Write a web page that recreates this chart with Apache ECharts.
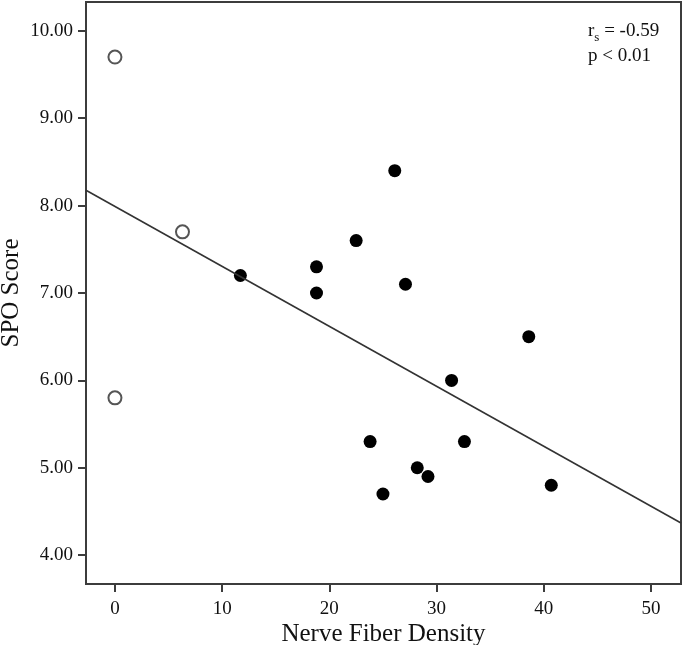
<!DOCTYPE html>
<html>
<head>
<meta charset="utf-8">
<style>
  html, body { margin: 0; padding: 0; background: #fff; }
  #chart { width: 685px; height: 645px; }
</style>
<script src="https://cdn.jsdelivr.net/npm/echarts@6/dist/echarts.min.js"></script>
</head>
<body>
<div id="chart"></div>
<script>
// open circles (outliers)
const openPoints = [
  [0, 9.7],
  [0, 5.8],
  [6.3, 7.7]
]
// filled circles
const filledPoints = [
  [11.7, 7.2],
  [18.8, 7.3],
  [18.8, 7.0],
  [22.5, 7.6],
  [26.1, 8.4],
  [27.1, 7.1],
  [31.4, 6.0],
  [38.6, 6.5],
  [23.8, 5.3],
  [32.6, 5.3],
  [28.2, 5.0],
  [29.2, 4.9],
  [25.0, 4.7],
  [40.7, 4.8]
]
const xTicks = [0, 10, 20, 30, 40, 50]
const yTicks = [4, 5, 6, 7, 8, 9, 10]
// fit line
const fitIntercept = 7.99
const fitSlope = -0.0686

const xMin = -2.7
const xMax = 52.8
const yMin = 3.67
const yMax = 10.33

const fitLine = [xMin, xMax].map(x => [x, fitIntercept + fitSlope * x])

const font = 'Liberation Serif'
const ink = '#111'
const frame = '#3c3c3c'

const chart = echarts.init(document.getElementById('chart'))
chart.setOption({
  backgroundColor: '#fff',
  animation: false,
  textStyle: { fontFamily: font },
  title: {
    left: 588,
    top: 19,
    padding: 0,
    text: '{r|r}{s|s}{r| = -0.59}\n{r|p < 0.01}',
    textStyle: {
      fontWeight: 'normal',
      rich: {
        r: { fontFamily: font, fontSize: 19, fontWeight: 'normal', color: ink, lineHeight: 25 },
        s: { fontFamily: font, fontSize: 13, fontWeight: 'normal', color: ink, verticalAlign: 'bottom', lineHeight: 21 }
      }
    }
  },
  grid: {
    left: 86,
    right: 4,
    top: 2,
    bottom: 61,
    outerBoundsMode: 'none',
    containLabel: false,
    show: true,
    borderColor: frame,
    borderWidth: 2
  },
  xAxis: {
    type: 'value',
    min: xMin,
    max: xMax,
    name: 'Nerve Fiber Density',
    nameLocation: 'middle',
    nameGap: 38,
    nameMoveOverlap: false,
    nameTextStyle: { fontFamily: font, fontSize: 25, color: ink },
    splitLine: { show: false },
    axisLine: { show: true, onZero: false, lineStyle: { color: frame, width: 2 } },
    axisTick: { show: true, customValues: xTicks, length: 8, lineStyle: { color: frame, width: 2 } },
    axisLabel: {
      customValues: xTicks,
      margin: 16,
      fontFamily: font,
      fontSize: 19,
      color: ink
    }
  },
  yAxis: {
    type: 'value',
    min: yMin,
    max: yMax,
    name: 'SPO Score',
    nameLocation: 'middle',
    nameGap: 62,
    nameMoveOverlap: false,
    nameTextStyle: { fontFamily: font, fontSize: 25, color: ink },
    splitLine: { show: false },
    axisLine: { show: true, onZero: false, lineStyle: { color: frame, width: 2 } },
    axisTick: { show: true, customValues: yTicks, length: 8, lineStyle: { color: frame, width: 2 } },
    axisLabel: {
      customValues: yTicks,
      margin: 13,
      fontFamily: font,
      fontSize: 19,
      color: ink,
      formatter: v => v.toFixed(2)
    }
  },
  series: [
    {
      type: 'line',
      data: fitLine,
      symbol: 'none',
      lineStyle: { color: '#333', width: 1.6 },
      silent: true
    },
    {
      type: 'scatter',
      data: openPoints,
      symbol: 'circle',
      symbolSize: 13,
      itemStyle: { color: '#fff', borderColor: '#2a2a2a', borderWidth: 2 }
    },
    {
      type: 'scatter',
      data: filledPoints,
      symbol: 'circle',
      symbolSize: 13,
      itemStyle: { color: '#000', opacity: 1 }
    }
  ]
})
</script>
</body>
</html>
